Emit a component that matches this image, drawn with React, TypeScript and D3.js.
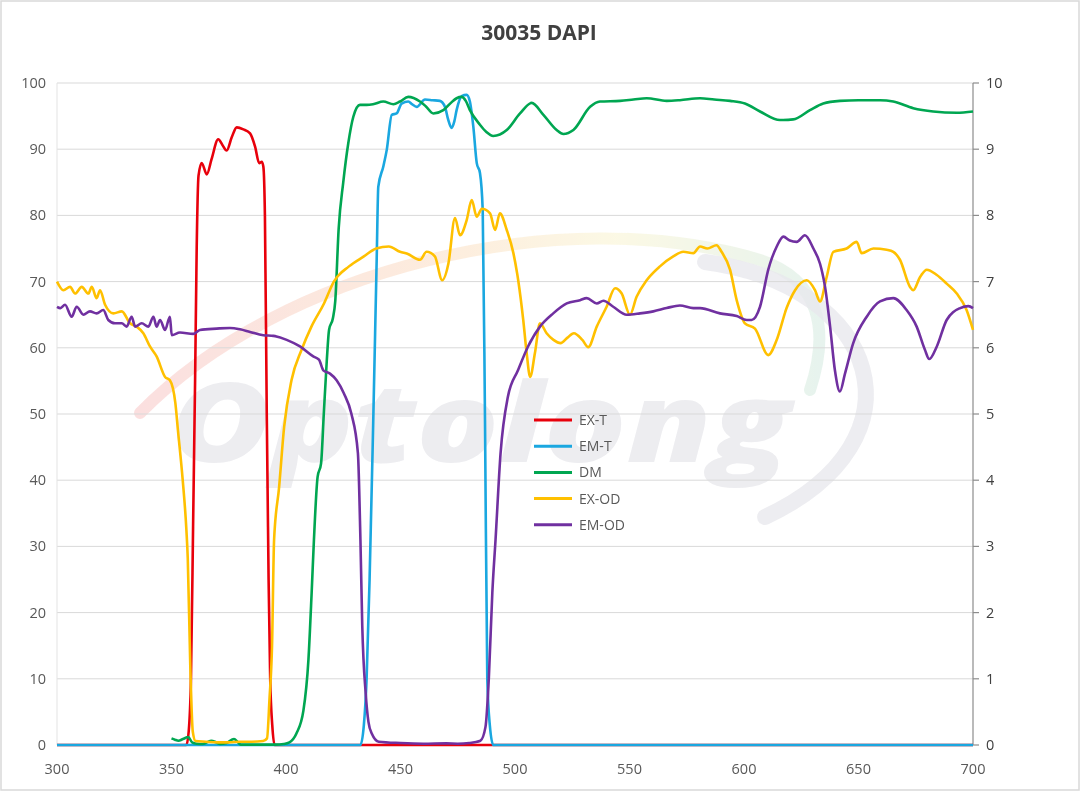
import React from 'react';
import * as d3 from 'd3';

// wavelength (nm) / value pairs
const exT: [number, number][] = [
  [300, 0], [356.5, 0], [357.5, 2], [358.5, 10], [359.5, 35], [360.3, 55], [361, 75], [361.8, 86],
  [363.2, 87.9], [365.4, 86.2], [367.5, 88.5], [370.4, 91.5], [372.3, 90.6], [374.1, 89.8],
  [376.3, 91.8], [378.5, 93.3], [381.4, 93], [384.3, 92.4], [386.5, 90.4], [388.3, 87.9],
  [389.4, 88.1], [390.1, 87.4], [390.8, 79.8], [391.6, 50], [392.4, 25], [393.1, 10], [394, 3],
  [395, 0], [700, 0],
];

const emT: [number, number][] = [
  [300, 0], [432.5, 0], [434, 3], [435.2, 10], [436.5, 25], [438.1, 49], [439.6, 73.3],
  [440.3, 84.3], [442.5, 87.4], [444, 89.9], [446.2, 95.2], [448.3, 95.4], [450.5, 96.9],
  [453.4, 97.2], [455, 96.8], [457.1, 96.4], [460.7, 97.5], [464, 97.4], [467.2, 97.3],
  [469.4, 96.4], [470.8, 94.5], [472.3, 93.2], [473.5, 94.2], [474.5, 95.9], [476.7, 98],
  [478.9, 98.2], [480.3, 97.2], [481.8, 93.4], [483.3, 87.9], [484.7, 86.4], [485.9, 80.8],
  [486.9, 49], [487.9, 10], [489, 3], [490.5, 0], [700, 0],
];

const dm: [number, number][] = [
  [350, 1.0], [351.5, 0.8], [353, 0.65], [355, 0.9], [357.3, 1.2], [359, 0.4], [361, 0.2],
  [363.6, 0.15], [365.5, 0.4], [367.4, 0.65], [369.5, 0.4], [371.2, 0.15], [374, 0.3],
  [377.3, 0.9], [379, 0.4], [380.3, 0.05], [385, 0.05], [390, 0.05], [395.5, 0.05], [399, 0.15],
  [401.5, 0.4], [404.5, 1.7], [407.6, 5.2], [409.8, 12.9], [411.2, 23], [412.2, 31], [413.8, 40.5],
  [415.3, 42.5], [416.5, 50], [417.8, 58], [418.8, 62.7], [420.5, 64.5], [421.5, 67], [423, 78],
  [425, 85], [427.2, 90.9], [429.4, 94.9], [432.3, 96.7], [435.2, 96.7], [438, 96.8], [442.5, 97.2],
  [446.9, 96.8], [449.8, 97.2], [453.4, 97.9], [458.5, 97.2], [461, 96.5], [464.3, 95.4],
  [468.7, 95.9], [472, 97], [474.5, 97.7], [476.7, 97.9], [478.5, 97.3], [480.3, 95.9],
  [484.7, 93.7], [487.5, 92.6], [490.5, 92], [496.4, 92.9], [502.2, 95.4], [507.3, 97],
  [512.4, 95.2], [518.2, 92.9], [521.1, 92.3], [525.5, 92.9], [532.8, 96.4], [537.1, 97.2],
  [545.9, 97.3], [551.7, 97.5], [557.5, 97.7], [566.2, 97.3], [572, 97.4], [580.8, 97.7],
  [587, 97.5], [593.9, 97.3], [600.4, 96.9], [607, 95.7], [615.7, 94.4], [621.5, 94.5],
  [628.8, 95.9], [634.6, 96.9], [641.9, 97.3], [650, 97.4], [659.4, 97.4], [665.2, 97.2],
  [673.9, 96.2], [682.6, 95.7], [692.9, 95.5], [700, 95.7],
];

// optical density, right axis
const exOD: [number, number][] = [
  [300, 7.0], [302.8, 6.87], [305.7, 6.92], [307.9, 6.82], [310.8, 6.92], [313.7, 6.82],
  [315.2, 6.92], [317.3, 6.75], [318.8, 6.87], [321, 6.65], [324.6, 6.52], [328.3, 6.55],
  [331.9, 6.37], [334.8, 6.32], [337.7, 6.22], [340.6, 6.02], [343.5, 5.87], [347.2, 5.56],
  [349.3, 5.51], [351.7, 5.16], [352.8, 4.76], [354.9, 4.0], [356.5, 3.25], [357.1, 2.82],
  [358.2, 1.2], [359.3, 0.2], [360.5, 0.06], [365, 0.05], [370, 0.04], [375, 0.04], [380, 0.05],
  [385, 0.05], [390, 0.06], [391.7, 0.1], [392.8, 0.7], [393.9, 1.5], [394.8, 3.1], [397, 3.9],
  [399.2, 4.81], [402.4, 5.51], [406.8, 5.97], [411.1, 6.32], [416.6, 6.67], [420.9, 7.0],
  [427.5, 7.23], [434, 7.38], [439.4, 7.5], [444.9, 7.53], [449.8, 7.45], [453, 7.42],
  [458.5, 7.33], [461.4, 7.45], [465, 7.38], [468.2, 7.02], [470.9, 7.27], [473.8, 7.96],
  [476, 7.7], [478.9, 7.93], [481.1, 8.23], [483.3, 7.98], [485.5, 8.1], [489.1, 8.03],
  [491.3, 7.78], [493.4, 8.03], [496.4, 7.78], [499.3, 7.43], [501.4, 7.02], [503.6, 6.42],
  [505.1, 5.92], [506.6, 5.56], [508.7, 5.92], [510.9, 6.37], [513.8, 6.22], [516.8, 6.12],
  [519.9, 6.07], [522.8, 6.15], [525.7, 6.22], [529.4, 6.12], [532, 6.01], [535.7, 6.32],
  [540, 6.62], [543.7, 6.9], [546.6, 6.82], [550.2, 6.5], [553.1, 6.77], [557.5, 7.02],
  [563.3, 7.23], [569.1, 7.38], [573.5, 7.45], [577.9, 7.43], [580.8, 7.53], [584, 7.5],
  [588, 7.55], [590.2, 7.45], [593.9, 7.18], [596.8, 6.72], [600.4, 6.37], [604.8, 6.29],
  [610.6, 5.89], [614.3, 6.12], [618.6, 6.6], [622.3, 6.87], [627.4, 7.02], [631, 6.87],
  [633.2, 6.7], [636.1, 7.07], [639, 7.45], [644.8, 7.5], [649.2, 7.6], [651.4, 7.43],
  [656.5, 7.5], [662.3, 7.48], [665.2, 7.45], [668.1, 7.33], [672.5, 6.92], [673.9, 6.87],
  [676.9, 7.07], [679.8, 7.18], [684.2, 7.1], [688.5, 6.97], [692.9, 6.82], [697.2, 6.57],
  [700, 6.27],
];

const emOD: [number, number][] = [
  [300, 6.62], [301.5, 6.6], [303.5, 6.65], [306.4, 6.47], [308.6, 6.62], [311.5, 6.5],
  [314.4, 6.55], [317.3, 6.52], [320.2, 6.57], [322.4, 6.42], [325.3, 6.37], [328.3, 6.37],
  [330.4, 6.32], [332.6, 6.47], [334.1, 6.32], [337, 6.37], [339.9, 6.32], [342.1, 6.47],
  [343.5, 6.32], [345, 6.42], [347.2, 6.27], [349.3, 6.47], [350.1, 6.19], [353.7, 6.23],
  [359.5, 6.21], [362.4, 6.27], [369.7, 6.29], [375.5, 6.3], [379.9, 6.28], [384.3, 6.24],
  [390.1, 6.19], [394.5, 6.18], [400.3, 6.12], [406.1, 6.02], [411.9, 5.87], [414.4, 5.82],
  [416.3, 5.66], [419.2, 5.61], [422.1, 5.51], [425.3, 5.31], [428.5, 5.01], [431.4, 4.41],
  [432.5, 3.1], [433.3, 1.8], [434.8, 0.78], [436, 0.35], [437.5, 0.17], [440.5, 0.05],
  [450, 0.03], [460, 0.02], [470, 0.025], [475, 0.02], [480, 0.03], [484.9, 0.065],
  [487.1, 0.27], [488.6, 1.03], [490.1, 2.3], [491.5, 3.1], [493.7, 4.41], [496.9, 5.26],
  [501.3, 5.66], [505.7, 6.02], [510.9, 6.32], [516.7, 6.52], [522.6, 6.67], [528.4, 6.72],
  [531.3, 6.75], [535.7, 6.67], [538.6, 6.71], [542.9, 6.62], [548.8, 6.5], [554.6, 6.52],
  [560.4, 6.55], [566.2, 6.6], [572, 6.64], [577.9, 6.6], [580.8, 6.6], [589.5, 6.52],
  [596.8, 6.48], [601.2, 6.42], [603.3, 6.42], [607, 6.62], [610.6, 7.18], [614.3, 7.53],
  [617.2, 7.68], [620, 7.62], [623, 7.6], [626.6, 7.7], [630.3, 7.5], [633.2, 7.27],
  [635.4, 6.92], [637.6, 6.32], [639.7, 5.66], [641.9, 5.34], [644.1, 5.61], [647.7, 6.07],
  [653.6, 6.47], [659.4, 6.7], [665.2, 6.75], [671, 6.57], [675.4, 6.32], [679, 5.97],
  [680.9, 5.83], [684.2, 6.02], [688.5, 6.42], [694.4, 6.6], [698, 6.63], [700, 6.6],
];

const xTicks = [300, 350, 400, 450, 500, 550, 600, 650, 700];
const leftTicks = [0, 10, 20, 30, 40, 50, 60, 70, 80, 90, 100];
const rightTicks = [0, 1, 2, 3, 4, 5, 6, 7, 8, 9, 10];

const W = 1080;
const H = 791;
const FONT = '"Open Sans", "DejaVu Sans", sans-serif';

const x = d3.scaleLinear().domain([300, 700]).range([57, 973]);
const yL = d3.scaleLinear().domain([0, 100]).range([745, 83]);
const yR = d3.scaleLinear().domain([0, 10]).range([745, 83]);

const series = [
  { name: 'EX-T', data: exT, color: '#E8000B', y: yL },
  { name: 'EM-T', data: emT, color: '#1AA7E0', y: yL },
  { name: 'DM', data: dm, color: '#00A651', y: yL },
  { name: 'EX-OD', data: exOD, color: '#FFC000', y: yR },
  { name: 'EM-OD', data: emOD, color: '#7030A0', y: yR },
];

export default function App() {
  const lineFor = (y: d3.ScaleLinear<number, number>) =>
    d3.line<[number, number]>()
      .x(d => x(d[0]))
      .y(d => y(d[1]))
      .curve(d3.curveMonotoneX);

  return (
    <svg width={W} height={H} style={{ position: 'absolute', left: 0, top: 0, background: '#fff' }}>
      <defs>
        <linearGradient id="swoosh" x1="0%" y1="0%" x2="100%" y2="0%">
          <stop offset="0%" stopColor="#f4a0a0" />
          <stop offset="45%" stopColor="#f8c89a" />
          <stop offset="70%" stopColor="#f6ecb0" />
          <stop offset="100%" stopColor="#b6dccb" />
        </linearGradient>
      </defs>
      <rect x={1} y={1} width={W - 2} height={H - 2} fill="#fff" stroke="#d9d9d9" strokeWidth={1.5} />

      {/* watermark */}
      <g opacity={0.55}>
        <path d="M140,413 C280,270 560,200 760,260 C820,280 830,330 810,390"
          fill="none" stroke="url(#swoosh)" strokeWidth={12} strokeLinecap="round" opacity={0.6} />
        <path d="M705,262 C880,285 930,440 765,517"
          fill="none" stroke="#d6d6de" strokeWidth={16} strokeLinecap="round" opacity={0.8} />
        <text x={170} y={462} fontFamily={FONT} fontWeight={800} fontStyle="italic" fontSize={110}
          fill="#dedee4" textLength={620} lengthAdjust="spacingAndGlyphs">Optolong</text>
      </g>

      <text x={539} y={40} textAnchor="middle" fontFamily={FONT} fontWeight={700} fontSize={21} fill="#404040">
        30035 DAPI
      </text>

      {/* gridlines */}
      {leftTicks.map(t => (
        <line key={`g${t}`} x1={57} x2={973} y1={yL(t)} y2={yL(t)} stroke="#d9d9d9" strokeWidth={1} />
      ))}
      <line x1={57} x2={57} y1={83} y2={745} stroke="#e3e3e3" strokeWidth={1} />

      {/* right axis */}
      <line x1={973} x2={973} y1={83} y2={745} stroke="#8c8c8c" strokeWidth={1.2} />
      {rightTicks.map(t => (
        <g key={`r${t}`}>
          <line x1={973} x2={979} y1={yR(t)} y2={yR(t)} stroke="#8c8c8c" strokeWidth={1.2} />
          <text x={986} y={yR(t)} dy="0.35em" fontFamily={FONT} fontSize={14.5} fill="#404040">{t}</text>
        </g>
      ))}

      {leftTicks.map(t => (
        <text key={`l${t}`} x={46} y={yL(t)} dy="0.35em" textAnchor="end" fontFamily={FONT} fontSize={14.5} fill="#595959">{t}</text>
      ))}
      {xTicks.map(t => (
        <text key={`x${t}`} x={x(t)} y={774} textAnchor="middle" fontFamily={FONT} fontSize={14.5} fill="#595959">{t}</text>
      ))}

      {/* series */}
      {series.map(s => (
        <path key={s.name} d={lineFor(s.y)(s.data) || ''} fill="none" stroke={s.color}
          strokeWidth={2.6} strokeLinejoin="round" />
      ))}

      {/* legend */}
      {series.map((s, i) => (
        <g key={`lg${s.name}`} transform={`translate(534, ${420 + i * 26.2})`}>
          <line x1={0} x2={38} y1={0} y2={0} stroke={s.color} strokeWidth={3} />
          <text x={45} y={0} dy="0.35em" fontFamily={FONT} fontSize={14} fill="#595959">{s.name}</text>
        </g>
      ))}
    </svg>
  );
}
